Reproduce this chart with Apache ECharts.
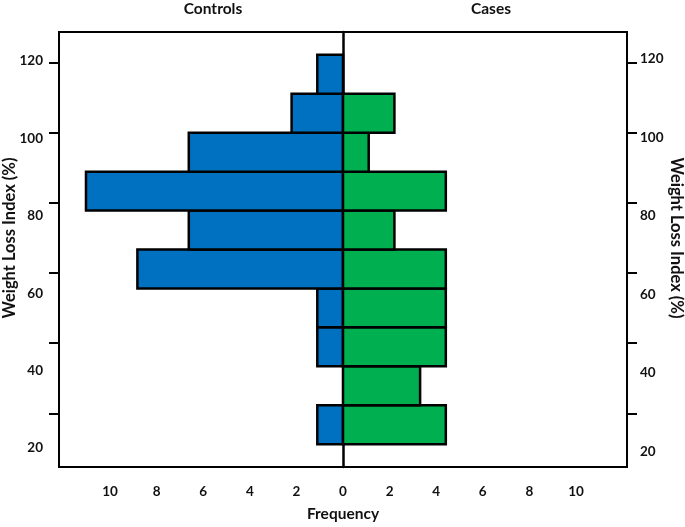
<!DOCTYPE html>
<html>
<head>
<meta charset="utf-8">
<script src="https://cdn.jsdelivr.net/npm/echarts@6/dist/echarts.min.js"></script>
<style>html,body{margin:0;padding:0;background:#fff}#c{width:685px;height:527px}</style>
</head>
<body>
<div id="c"></div>
<script>
// Bins of Weight Loss Index (%) - lower edges, width 10
var binLows = [20, 30, 40, 50, 60, 70, 80, 90, 100, 110];
var binWidth = 10;
// Frequencies per bin (low to high)
var controls = [1, 0, 1, 1, 8, 6, 10, 6, 2, 1];
var cases    = [4, 3, 4, 4, 4, 2, 4, 1, 2, 0];
// Axis labels
var yTickLabels = [20, 40, 60, 80, 100, 120];
var xTickLabels = [-10, -8, -6, -4, -2, 0, 2, 4, 6, 8, 10];
var groupTitles = ['Controls', 'Cases'];

var FONT = 'Lato';
var chart = echarts.init(document.getElementById('c'), null, {renderer: 'canvas'});

function buildData(counts, sign) {
  return binLows.map(function (lo, i) { return [lo, lo + binWidth, sign * counts[i]]; });
}
function renderBar(color) {
  return function (params, api) {
    var lo = api.value(0), hi = api.value(1), v = api.value(2);
    if (!v) return null;
    var p1 = api.coord([v, hi]);
    var p0 = api.coord([0, lo]);
    var x = Math.min(p0[0], p1[0]), w = Math.abs(p1[0] - p0[0]);
    return {
      type: 'rect',
      shape: {x: x, y: p1[1], width: w, height: p0[1] - p1[1]},
      style: {fill: color, stroke: '#000', lineWidth: 2.5}
    };
  };
}

var labelStyle = {color: '#111', fontFamily: FONT, fontWeight: 'bold', fontSize: 13.5};

var option = {
  animation: false,
  grid: {left: 59, right: 58, top: 32, bottom: 57, show: true, borderColor: '#000', borderWidth: 2, backgroundColor: 'transparent'},
  xAxis: [
    {type: 'value', gridIndex: 0, min: -11.05, max: 11.05, axisLine: {show: false}, axisTick: {show: false}, axisLabel: {show: false}, splitLine: {show: false}},
    {type: 'value', gridIndex: 0, position: 'bottom', min: -12.19, max: 12.19,
      axisLine: {show: false}, axisTick: {show: false}, splitLine: {show: false},
      axisLabel: Object.assign({customValues: xTickLabels, margin: 18, formatter: function (v) { return Math.abs(v); }}, labelStyle),
      name: 'Frequency', nameLocation: 'middle', nameGap: 39,
      nameTextStyle: {color: '#111', fontFamily: FONT, fontWeight: 'bold', fontSize: 15.5}}
  ],
  yAxis: [
    {type: 'value', min: 14.13, max: 125.87, axisLine: {show: true, onZero: true, onZeroAxisIndex: 0, lineStyle: {color: '#000', width: 2.5}},
      axisTick: {show: false}, axisLabel: {show: false}, splitLine: {show: false}},
    {type: 'value', position: 'left', min: 4.7, max: 128.7, axisLine: {show: false, onZero: false},
      axisTick: {show: true, customValues: yTickLabels, length: 10, lineStyle: {color: '#000', width: 2}},
      axisLabel: {show: false}, splitLine: {show: false}},
    {type: 'value', position: 'left', min: 15.13, max: 127.44, axisLine: {show: false, onZero: false},
      axisTick: {show: false}, splitLine: {show: false},
      axisLabel: Object.assign({customValues: yTickLabels, margin: 16}, labelStyle)},
    {type: 'value', position: 'right', min: 4.7, max: 128.7, axisLine: {show: false, onZero: false},
      axisTick: {show: true, customValues: yTickLabels, length: 10, lineStyle: {color: '#000', width: 2}},
      axisLabel: {show: false}, splitLine: {show: false}},
    {type: 'value', position: 'right', min: 15.98, max: 126.8, axisLine: {show: false, onZero: false},
      axisTick: {show: false}, splitLine: {show: false},
      axisLabel: Object.assign({customValues: yTickLabels, margin: 13}, labelStyle)}
  ],
  graphic: [
    {type: 'text', x: 213, y: 9, style: {text: groupTitles[0], textAlign: 'center', textVerticalAlign: 'middle', fill: '#111', font: 'bold 15.5px ' + FONT}},
    {type: 'text', x: 491, y: 9, style: {text: groupTitles[1], textAlign: 'center', textVerticalAlign: 'middle', fill: '#111', font: 'bold 15.5px ' + FONT}},
    {type: 'text', x: 10, y: 238, rotation: Math.PI / 2, style: {text: 'Weight Loss Index (%)', textAlign: 'center', textVerticalAlign: 'middle', fill: '#111', font: 'bold 16.5px ' + FONT}},
    {type: 'text', x: 676, y: 238, rotation: -Math.PI / 2, style: {text: 'Weight Loss Index (%)', textAlign: 'center', textVerticalAlign: 'middle', fill: '#111', font: 'bold 16.5px ' + FONT}}
  ],
  series: [
    {name: 'Controls', type: 'custom', xAxisIndex: 0, yAxisIndex: 0, renderItem: renderBar('#0070C0'), encode: {x: 2, y: [0, 1]}, data: buildData(controls, -1)},
    {name: 'Cases', type: 'custom', xAxisIndex: 0, yAxisIndex: 0, renderItem: renderBar('#00B050'), encode: {x: 2, y: [0, 1]}, data: buildData(cases, 1)}
  ]
};
chart.setOption(option);
</script>
</body>
</html>
